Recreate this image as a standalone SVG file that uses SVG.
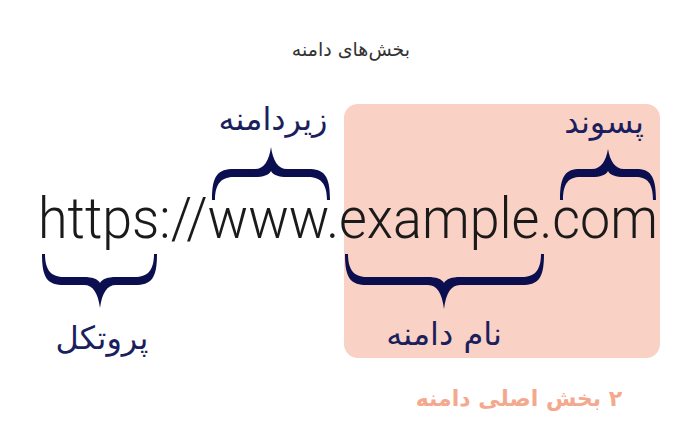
<svg xmlns="http://www.w3.org/2000/svg" width="693" height="422" viewBox="0 0 693 422">
<style>
.brace{fill:#0b0f4f}
.lbl{font-family:"DejaVu Sans",sans-serif;font-size:32px;fill:#1b1f5e;text-anchor:middle;direction:rtl}
.url{font-family:Roboto,"Liberation Sans",sans-serif;font-weight:300;font-size:58px;fill:#1a1a1a}
</style>
<rect width="693" height="422" fill="#ffffff"/>
<g id="main-domain-box">
<rect x="344" y="104" width="316" height="254" rx="14" fill="#f9d1c5"/>
</g>
<g id="title"><text x="351" y="56" direction="rtl" style="font-family:'DejaVu Sans',sans-serif;font-size:19px;fill:#333;text-anchor:middle">بخش‌های دامنه</text></g>
<g id="url"><text class="url" x="38" y="238" textLength="620" lengthAdjust="spacingAndGlyphs">https://www.example.com</text></g>
<g id="connectors">
<path class="brace" d="M212,200 C212,175 218,169 234,169 L255,169 C264,169 269,161 271,147 C273,161 278,169 287,169 L308,169 C324,169 330,175 330,200 L327,200 C327,183 320,177 308,177 L287,177 C279,177 273,175 271,171 C269,175 263,177 255,177 L234,177 C222,177 215,183 215,200 Z"/>
<path class="brace" d="M560,200 C560,175 566,169 580,169 L592,169 C601,169 606,161 608,149 C610,161 615,169 624,169 L636,169 C650,169 656,175 656,200 L653,200 C653,183 647,177 636,177 L624,177 C616,177 610,175 608,171 C606,175 600,177 592,177 L580,177 C569,177 563,183 563,200 Z"/>
<path class="brace" d="M42,254 C42,279 48,285 64,285 L84,285 C93,285 98,293 100,308 C102,293 107,285 116,285 L135,285 C151,285 157,279 157,254 L154,254 C154,271 147,277 135,277 L116,277 C108,277 102,279 100,283 C98,279 92,277 84,277 L64,277 C52,277 45,271 45,254 Z"/>
<path class="brace" d="M345,254 C345,279 351,285 367,285 L428,285 C437,285 442,293 444,309 C446,293 451,285 460,285 L522,285 C538,285 544,279 544,254 L541,254 C541,271 534,277 522,277 L460,277 C452,277 446,279 444,283 C442,279 436,277 428,277 L367,277 C355,277 348,271 348,254 Z"/>
</g>
<g id="subdomain"><text class="lbl" x="273" y="130">زیردامنه</text></g>
<g id="tld"><text class="lbl" x="604" y="133">پسوند</text></g>
<g id="protocol"><text class="lbl" x="102" y="349">پروتکل</text></g>
<g id="domain-name"><text class="lbl" x="444" y="345">نام دامنه</text></g>
<g id="caption"><text x="519" y="406" direction="rtl" style="font-family:'DejaVu Sans',sans-serif;font-size:22px;font-weight:bold;fill:#f4a88d;text-anchor:middle">۲ بخش اصلی دامنه</text></g>
</svg>
